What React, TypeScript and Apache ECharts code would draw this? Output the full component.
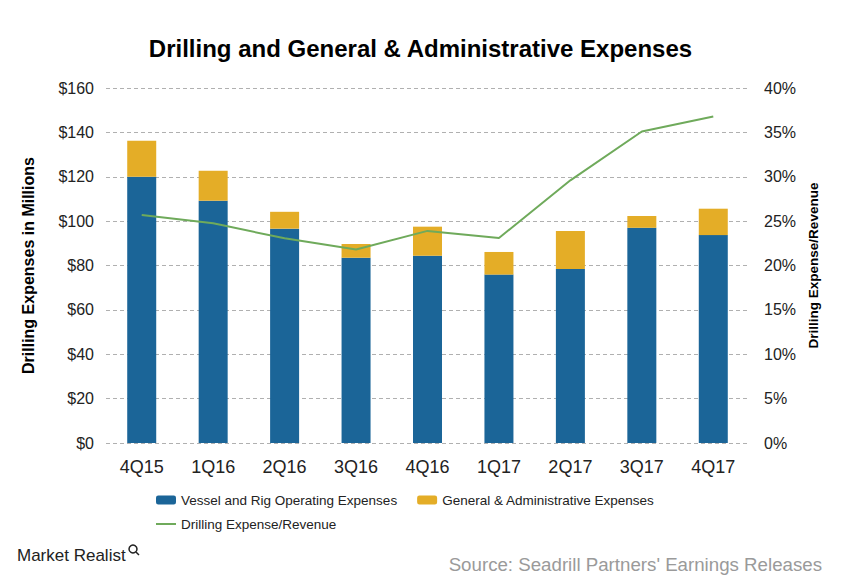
import React, { useEffect, useRef } from "react";
import * as echarts from "echarts";

const categories = ["4Q15", "1Q16", "2Q16", "3Q16", "4Q16", "1Q17", "2Q17", "3Q17", "4Q17"];
const vesselRig = [120.0, 109.2, 96.6, 83.5, 84.4, 75.9, 78.4, 97.0, 93.7];
const generalAdmin = [16.2, 13.5, 7.6, 6.2, 13.1, 10.2, 17.1, 5.3, 11.9];
const drillingRatio = [0.257, 0.2475, 0.2306, 0.218, 0.239, 0.231, 0.296, 0.351, 0.368];
const leftTicks = { min: 0, max: 160, interval: 20 };
const rightTicks = { min: 0, max: 0.4, interval: 0.05 };

const FONT = "'Liberation Sans', Arial, sans-serif";

export default function App() {
  const ref = useRef<HTMLDivElement>(null);
  useEffect(() => {
    if (!ref.current) return;
    const chart = echarts.init(ref.current, undefined, { renderer: "svg" });
    chart.setOption({
      animation: false,
      backgroundColor: "#ffffff",
      textStyle: { fontFamily: FONT },
      title: {
        text: "Drilling and General & Administrative Expenses",
        left: "center",
        top: 31,
        textStyle: { fontSize: 24, fontWeight: "bold", color: "#000", fontFamily: FONT },
      },
      grid: { left: 106, right: 92, top: 88, bottom: 140 },
      legend: [
        {
          data: ["Vessel and Rig Operating Expenses", "General & Administrative Expenses"],
          left: 151,
          top: 488,
          itemWidth: 20,
          itemHeight: 9,
          itemGap: 20,
          textStyle: { fontSize: 13.5, color: "#222", fontFamily: FONT },
        },
        {
          data: [{ name: "Drilling Expense/Revenue", icon: "rect" }],
          left: 151,
          top: 512,
          itemWidth: 20,
          itemHeight: 2,
          textStyle: { fontSize: 13.5, color: "#222", fontFamily: FONT },
        },
      ],
      xAxis: {
        type: "category",
        data: categories,
        axisLine: { show: false },
        axisTick: { show: false },
        axisLabel: { fontSize: 18, color: "#222", margin: 15, fontFamily: FONT },
      },
      yAxis: [
        {
          type: "value",
          ...leftTicks,
          name: "Drilling Expenses in Millions",
          nameLocation: "middle",
          nameGap: 70,
          nameTextStyle: { fontSize: 16, fontWeight: "bold", color: "#000", fontFamily: FONT },
          axisLine: { show: false },
          axisTick: { show: false },
          axisLabel: { fontSize: 16, color: "#222", margin: 12, formatter: (v: number) => "$" + v, fontFamily: FONT },
          splitLine: { show: true, lineStyle: { type: [4, 3], color: "#b0b0b0", width: 1 } },
        },
        {
          type: "value",
          ...rightTicks,
          name: "Drilling Expense/Revenue",
          nameLocation: "middle",
          nameGap: 52,
          nameTextStyle: { fontSize: 13.5, fontWeight: "bold", color: "#000", fontFamily: FONT },
          axisLine: { show: false },
          axisTick: { show: false },
          axisLabel: {
            fontSize: 16,
            color: "#222",
            margin: 15,
            formatter: (v: number) => Math.round(v * 100) + "%",
            fontFamily: FONT,
          },
          splitLine: { show: false },
        },
      ],
      series: [
        {
          name: "Vessel and Rig Operating Expenses",
          type: "bar",
          stack: "exp",
          data: vesselRig,
          barWidth: 29,
          itemStyle: { color: "#1B6598" },
        },
        {
          name: "General & Administrative Expenses",
          type: "bar",
          stack: "exp",
          data: generalAdmin,
          barWidth: 29,
          itemStyle: { color: "#E4AD27" },
        },
        {
          name: "Drilling Expense/Revenue",
          type: "line",
          yAxisIndex: 1,
          data: drillingRatio,
          symbol: "none",
          lineStyle: { color: "#6FAA5B", width: 2 },
          itemStyle: { color: "#6FAA5B" },
        },
      ],
      graphic: [
        {
          type: "text",
          left: 17,
          top: 547,
          style: { text: "Market Realist", fontSize: 17, fill: "#222", fontFamily: FONT },
        },
        { type: "circle", shape: { cx: 133, cy: 549, r: 4 }, style: { fill: "none", stroke: "#222", lineWidth: 1.5 } },
        { type: "line", shape: { x1: 136, y1: 552, x2: 139, y2: 555 }, style: { stroke: "#222", lineWidth: 1.5 } },
        {
          type: "text",
          right: 19,
          top: 555,
          style: { text: "Source: Seadrill Partners' Earnings Releases", fontSize: 18.7, fill: "#9a9a9a", fontFamily: FONT },
        },
      ],
    });
    return () => chart.dispose();
  }, []);
  return <div ref={ref} style={{ width: 841, height: 583, position: "absolute", left: 0, top: 0 }} />;
}
